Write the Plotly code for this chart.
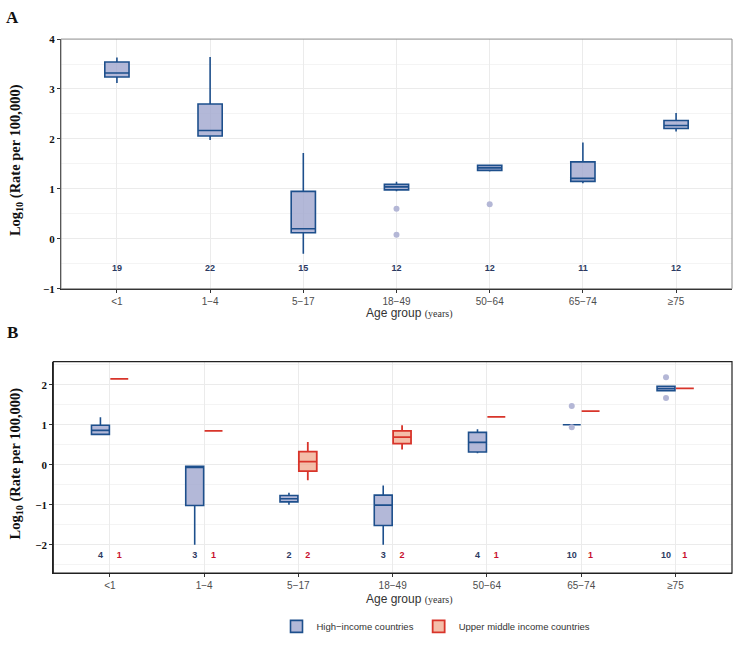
import plotly.graph_objects as go

W, H = 738, 652

age_groups = ["<1", "1−4", "5−17", "18−49", "50−64", "65−74", "≥75"]

# panel A - all countries (log10 rate per 100,000)
a_q1 = [3.24, 2.06, 0.12, 0.98, 1.37, 1.15, 2.21]
a_median = [3.32, 2.17, 0.20, 1.04, 1.42, 1.21, 2.27]
a_q3 = [3.54, 2.70, 0.95, 1.09, 1.47, 1.54, 2.37]
a_lower = [3.12, 1.98, -0.30, 0.95, 1.35, 1.11, 2.15]
a_upper = [3.63, 3.64, 1.72, 1.14, 1.49, 1.93, 2.52]
a_out_x = ["18−49", "18−49", "50−64"]
a_out_y = [0.60, 0.08, 0.69]
a_n = [19, 22, 15, 12, 12, 11, 12]

# panel B - high-income countries
hi_q1 = [0.76, -1.02, -0.93, -1.52, 0.32, 1.00, 1.85]
hi_median = [0.86, -0.05, -0.85, -1.01, 0.56, 1.00, 1.90]
hi_q3 = [0.99, -0.04, -0.77, -0.76, 0.81, 1.00, 1.96]
hi_lower = [0.74, -2.00, -1.00, -2.00, 0.29, 1.00, 1.85]
hi_upper = [1.19, -0.04, -0.70, -0.52, 0.89, 1.00, 1.96]
hi_out_x = ["65−74", "65−74", "≥75", "≥75"]
hi_out_y = [1.47, 0.94, 2.19, 1.67]
hi_n = [4, 3, 2, 3, 4, 10, 10]

# panel B - upper middle income countries
umi_q1 = [2.15, 0.85, -0.16, 0.53, 1.20, 1.34, 1.91]
umi_median = [2.15, 0.85, 0.08, 0.69, 1.20, 1.34, 1.91]
umi_q3 = [2.15, 0.85, 0.33, 0.85, 1.20, 1.34, 1.91]
umi_lower = [2.15, 0.85, -0.39, 0.38, 1.20, 1.34, 1.91]
umi_upper = [2.15, 0.85, 0.57, 0.99, 1.20, 1.34, 1.91]
umi_n = [1, 1, 2, 2, 1, 1, 1]

BLUE_LINE = "#1d4f8c"
BLUE_FILL = "rgba(160,166,206,0.8)"
RED_LINE = "#d8342a"
RED_FILL = "rgba(240,168,140,0.75)"
OUT_COL = "#b4b7d6"
NAVY_TXT = "#2c3a62"
RED_TXT = "#c8102e"

SERIF = "Liberation Serif"
SANS = "Liberation Sans"

fig = go.Figure()

# ---- panel A
fig.add_trace(go.Box(
    x=age_groups, q1=a_q1, median=a_median, q3=a_q3,
    lowerfence=a_lower, upperfence=a_upper,
    width=0.26, whiskerwidth=0, boxpoints=False,
    fillcolor=BLUE_FILL, line=dict(color=BLUE_LINE, width=1.6),
    xaxis="x", yaxis="y", showlegend=False, hoverinfo="skip"))
fig.add_trace(go.Scatter(
    x=a_out_x, y=a_out_y, mode="markers", offsetgroup="a", orientation="v",
    marker=dict(color=OUT_COL, size=6), xaxis="x", yaxis="y",
    showlegend=False, hoverinfo="skip"))
fig.add_trace(go.Scatter(
    x=age_groups, y=[-0.6] * len(age_groups), mode="text", offsetgroup="a",
    orientation="v", text=[str(n) for n in a_n],
    textfont=dict(family=SANS, size=9, color=NAVY_TXT, weight="bold"),
    xaxis="x", yaxis="y", showlegend=False, hoverinfo="skip"))

# ---- panel B
fig.add_trace(go.Box(
    x=age_groups, q1=hi_q1, median=hi_median, q3=hi_q3,
    lowerfence=hi_lower, upperfence=hi_upper, offsetgroup="hi",
    whiskerwidth=0, boxpoints=False, name="High−income countries",
    fillcolor=BLUE_FILL, line=dict(color=BLUE_LINE, width=1.6),
    xaxis="x2", yaxis="y2", hoverinfo="skip"))
fig.add_trace(go.Box(
    x=age_groups, q1=umi_q1, median=umi_median, q3=umi_q3,
    lowerfence=umi_lower, upperfence=umi_upper, offsetgroup="umi",
    whiskerwidth=0, boxpoints=False, name="Upper middle income countries",
    fillcolor=RED_FILL, line=dict(color=RED_LINE, width=1.8),
    xaxis="x2", yaxis="y2", hoverinfo="skip"))
fig.add_trace(go.Scatter(
    x=hi_out_x, y=hi_out_y, mode="markers", offsetgroup="hi", orientation="v",
    marker=dict(color=OUT_COL, size=6), xaxis="x2", yaxis="y2",
    showlegend=False, hoverinfo="skip"))
fig.add_trace(go.Scatter(
    x=age_groups, y=[-2.28] * len(age_groups), mode="text", offsetgroup="hi",
    orientation="v", text=[str(n) for n in hi_n],
    textfont=dict(family=SANS, size=9, color=NAVY_TXT, weight="bold"),
    xaxis="x2", yaxis="y2", showlegend=False, hoverinfo="skip"))
fig.add_trace(go.Scatter(
    x=age_groups, y=[-2.28] * len(age_groups), mode="text", offsetgroup="umi",
    orientation="v", text=[str(n) for n in umi_n],
    textfont=dict(family=SANS, size=9, color=RED_TXT, weight="bold"),
    xaxis="x2", yaxis="y2", showlegend=False, hoverinfo="skip"))


def px_x(p):
    return p / W


def px_y(p):
    return 1 - p / H


xa_dom = [px_x(61), px_x(732)]
ya_dom = [px_y(288), px_y(33.7)]
xb_dom = [px_x(53.3), px_x(732)]
yb_dom = [px_y(577.7), px_y(362.3)]

xcommon = dict(
    type="category", categoryorder="array", categoryarray=age_groups,
    range=[-0.6, 6.6], showgrid=True, gridcolor="#ebebeb", gridwidth=1,
    ticks="outside", ticklen=3, tickcolor="#333333",
    tickfont=dict(family=SANS, size=10, color="#4d4d4d"),
    showline=True, linecolor="#222222", linewidth=1, zeroline=False,
    fixedrange=True)
ycommon = dict(
    dtick=1, showgrid=True, gridcolor="#ebebeb", gridwidth=1,
    minor=dict(dtick=0.5, showgrid=True, gridcolor="#f4f4f4"),
    ticks="outside", ticklen=3, tickcolor="#333333",
    tickfont=dict(family=SERIF, size=11, color="#111111", weight="bold"),
    showline=True, linecolor="#222222", linewidth=1, zeroline=False,
    fixedrange=True)

fig.update_layout(
    width=W, height=H,
    margin=dict(l=0, r=0, t=0, b=0),
    paper_bgcolor="white", plot_bgcolor="white",
    boxmode="group", boxgap=0.6, boxgroupgap=0.05,
    scattermode="group", scattergap=0.6,
    xaxis=dict(xcommon, domain=xa_dom, anchor="y"),
    yaxis=dict(ycommon, domain=ya_dom, anchor="x", range=[-1, 4], tick0=0),
    xaxis2=dict(xcommon, domain=xb_dom, anchor="y2"),
    yaxis2=dict(ycommon, domain=yb_dom, anchor="x2", range=[-2.71, 2.58], tick0=0),
    legend=dict(orientation="h", x=px_x(436), xanchor="center",
                y=px_y(632), yanchor="middle",
                font=dict(family=SANS, size=9.5, color="#333333"),
                itemwidth=30, tracegroupgap=0),
    showlegend=True,
)

# panel borders
fig.add_shape(type="rect", xref="x domain", yref="y domain", x0=0, x1=1, y0=0, y1=1,
              line=dict(color="#8c8c8c", width=1), layer="above")
fig.add_shape(type="rect", xref="x2 domain", yref="y2 domain", x0=0, x1=1, y0=0, y1=1,
              line=dict(color="#222222", width=1.2), layer="above")

ytitle = "Log<sub>10</sub> (Rate per 100,000)"
xtitle = ("Age group <span style='font-family:Liberation Serif;font-size:10px'>"
          "(years)</span>")
annots = [
    dict(text="A", x=px_x(12), y=px_y(12)),
    dict(text="B", x=px_x(12), y=px_y(333)),
]
for a in annots:
    fig.add_annotation(xref="paper", yref="paper", showarrow=False,
                       xanchor="center", yanchor="middle",
                       font=dict(family=SERIF, size=17, color="#111111", weight="bold"),
                       **a)
for yc in (157, 466):
    fig.add_annotation(text=ytitle, xref="paper", yref="paper", x=px_x(16), y=px_y(yc),
                       textangle=-90, showarrow=False, xanchor="center", yanchor="middle",
                       font=dict(family=SERIF, size=14.5, color="#111111", weight="bold"))
for yc in (313, 604):
    fig.add_annotation(text=xtitle, xref="paper", yref="paper", x=px_x(409), y=px_y(yc),
                       showarrow=False, xanchor="center", yanchor="middle",
                       font=dict(family=SANS, size=12, color="#333333"))

fig.write_html("out.html", config={"displayModeBar": False},
               post_script="document.body.style.margin='0';"
                           "document.body.style.overflow='hidden';")
